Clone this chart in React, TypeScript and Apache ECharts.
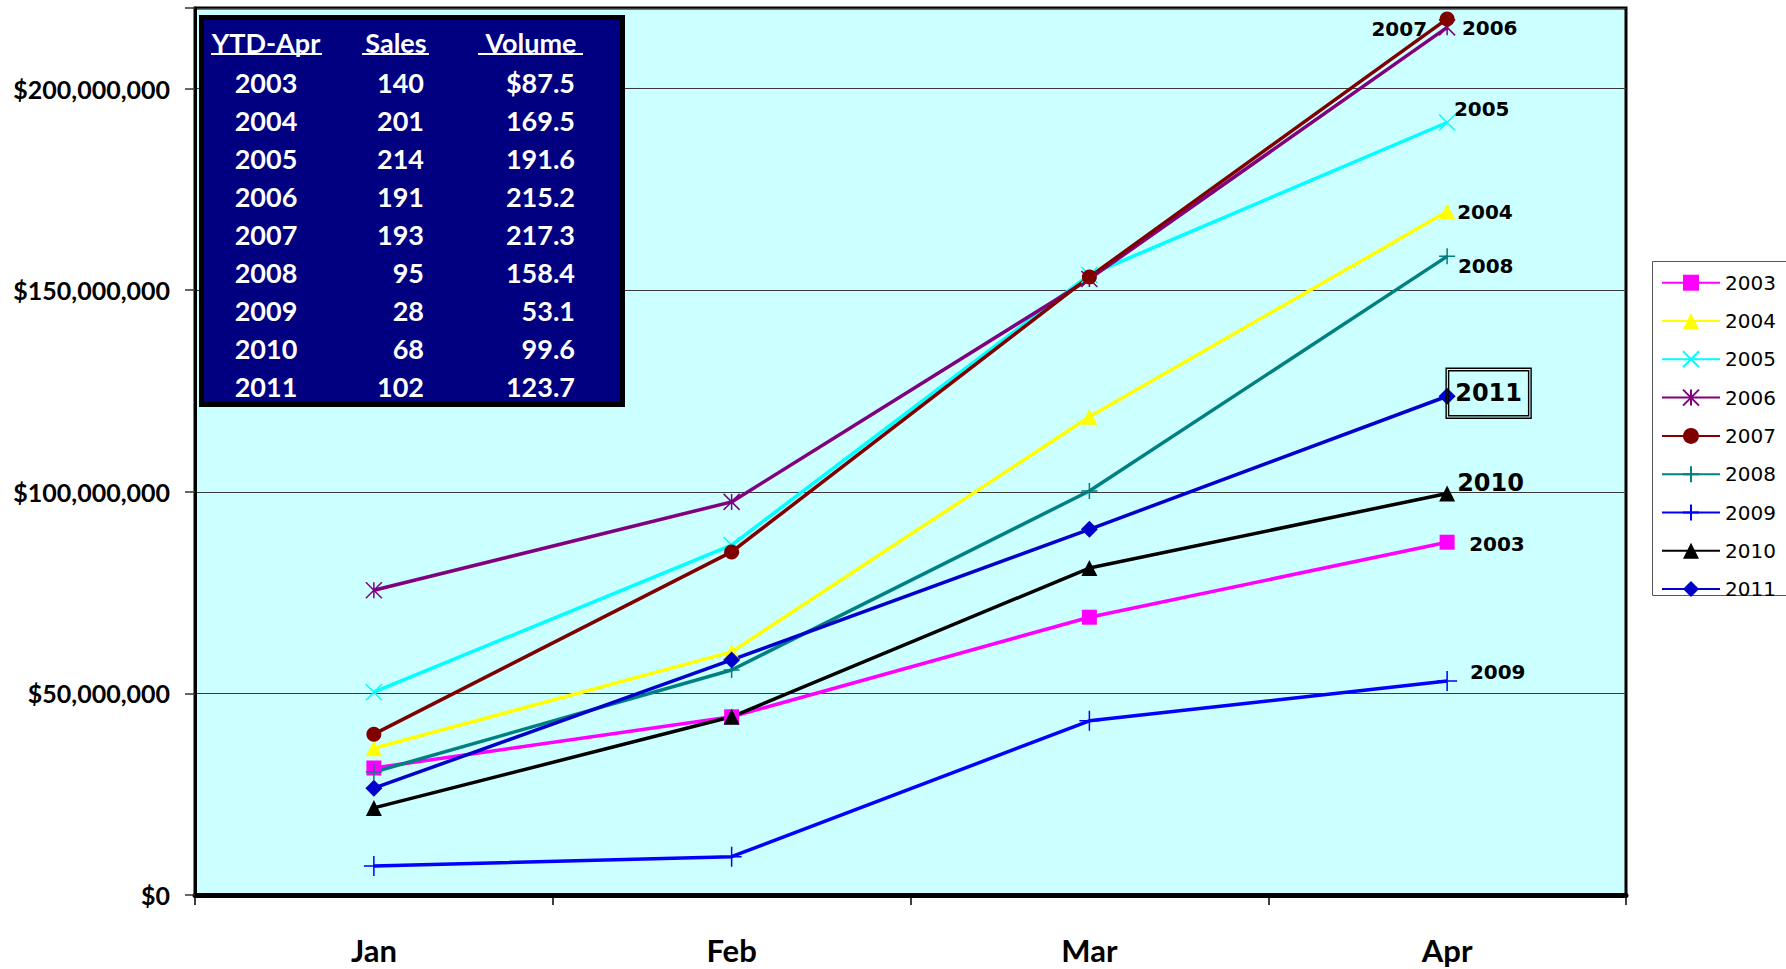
import React, { useEffect, useRef } from 'react';
import * as echarts from 'echarts';

// ---------- data ----------
const months = ['Jan', 'Feb', 'Mar', 'Apr'];
const yTicks = [0, 50, 100, 150, 200]; // millions of dollars

const v2003 = [31.5, 44.2, 68.9, 87.5];
const v2004 = [36.4, 60.3, 118.6, 169.5];
const v2005 = [50.3, 86.8, 153.8, 191.6];
const v2006 = [75.6, 97.5, 152.8, 215.2];
const v2007 = [39.9, 85.1, 153.3, 217.3];
const v2008 = [30.5, 55.8, 100.2, 158.4];
const v2009 = [7.2, 9.5, 43.2, 53.1];
const v2010 = [21.6, 44.2, 81.1, 99.6];
const v2011 = [26.5, 58.3, 90.7, 123.7];

const tableHeader = ['YTD-Apr', 'Sales', 'Volume'];
const tableYears = ['2003', '2004', '2005', '2006', '2007', '2008', '2009', '2010', '2011'];
const tableSales = ['140', '201', '214', '191', '193', '95', '28', '68', '102'];
const tableVolume = ['$87.5', '169.5', '191.6', '215.2', '217.3', '158.4', '53.1', '99.6', '123.7'];

// ---------- styles ----------
const CROSS = 'path://M0,0L10,10M10,0L0,10';
const STAR = 'path://M5,0L5,10M0,0L10,10M10,0L0,10';
const PLUS = 'path://M5,0L5,10M0,5L10,5';

type Def = {
  name: string;
  data: number[];
  color: string;
  symbol: string;
  size: number;
  stroke: number;
  side: 'left' | 'right';
  gap: number;
  dy: number;
  fs: number;
  boxed?: boolean;
};

const defs: Def[] = [
  { name: '2003', data: v2003, color: '#FF00FF', symbol: 'rect', size: 15, stroke: 0, side: 'right', gap: 22, dy: 2, fs: 20 },
  { name: '2004', data: v2004, color: '#FFFF00', symbol: 'triangle', size: 16, stroke: 0, side: 'right', gap: 10, dy: 0, fs: 20 },
  { name: '2005', data: v2005, color: '#00FFFF', symbol: CROSS, size: 16, stroke: 1.5, side: 'right', gap: 6, dy: -14, fs: 20 },
  { name: '2006', data: v2006, color: '#800080', symbol: STAR, size: 16, stroke: 1.5, side: 'right', gap: 14, dy: 1, fs: 20 },
  { name: '2007', data: v2007, color: '#800000', symbol: 'circle', size: 15, stroke: 0, side: 'left', gap: 20, dy: 10, fs: 20 },
  { name: '2008', data: v2008, color: '#008080', symbol: PLUS, size: 16, stroke: 1.5, side: 'right', gap: 10, dy: 10, fs: 20 },
  { name: '2009', data: v2009, color: '#0000FF', symbol: PLUS, size: 20, stroke: 1.5, side: 'right', gap: 22, dy: -9, fs: 20 },
  { name: '2010', data: v2010, color: '#000000', symbol: 'triangle', size: 16, stroke: 0, side: 'right', gap: 10, dy: -10, fs: 24 },
  { name: '2011', data: v2011, color: '#0000CC', symbol: 'diamond', size: 17, stroke: 0, side: 'right', gap: -1, dy: -3, fs: 24, boxed: true },
];

const LABEL_FONT = 'DejaVu Sans';
const AXIS_FONT = 'Lato';

function endLabel(d: Def) {
  const ox = d.side === 'right' ? d.gap - d.size / 2 : -(d.gap - d.size / 2);
  const base: any = {
    show: true,
    position: d.side,
    distance: 0,
    offset: [ox, d.dy],
    color: '#000',
    fontFamily: LABEL_FONT,
    fontWeight: 'bold',
    fontSize: d.fs,
  };
  if (d.boxed) {
    return {
      ...base,
      formatter: '{b|' + d.name + '}',
      borderColor: '#000',
      borderWidth: 1.4,
      padding: 2.5,
      rich: {
        b: {
          color: '#000',
          fontFamily: LABEL_FONT,
          fontWeight: 'bold',
          fontSize: d.fs,
          width: 80,
          height: 45,
          lineHeight: 45,
          align: 'center',
          verticalAlign: 'middle',
          borderColor: '#000',
          borderWidth: 1.4,
        },
      },
    };
  }
  return { ...base, formatter: d.name };
}

function buildOption() {
  const series = defs.map((d) => ({
    type: 'line',
    name: d.name,
    data: d.data.map((v, i) => (i === d.data.length - 1 ? { value: v, label: endLabel(d) } : v)),
    symbol: d.symbol,
    symbolSize: d.size,
    showAllSymbol: true,
    lineStyle: { width: 3.5, color: d.color },
    itemStyle: { color: d.color, borderColor: d.color, borderWidth: d.stroke },
    label: { show: false },
    emphasis: { disabled: true },
    animation: false,
  }));

  const graphics: any[] = [];
  // legend frame
  graphics.push({
    type: 'rect',
    z: 1,
    shape: { x: 1652.5, y: 261.5, width: 200, height: 334 },
    style: { fill: '#fff', stroke: '#555', lineWidth: 1 },
  });
  // table
  graphics.push({
    type: 'rect',
    z: 100,
    shape: { x: 201.5, y: 17.5, width: 421, height: 387 },
    style: { fill: '#000080', stroke: '#000', lineWidth: 5 },
  });
  const headerX = [266, 396, 531];
  const underline = [
    [211, 322],
    [362, 429],
    [478, 583],
  ];
  tableHeader.forEach((h, i) => {
    graphics.push({
      type: 'text',
      z: 101,
      style: {
        text: h,
        x: headerX[i],
        y: 42,
        fill: '#fff',
        fontFamily: AXIS_FONT,
        fontWeight: 'bold',
        fontSize: 27,
        align: 'center',
        verticalAlign: 'middle',
      },
    });
    graphics.push({
      type: 'line',
      z: 101,
      shape: { x1: underline[i][0], y1: 54, x2: underline[i][1], y2: 54 },
      style: { stroke: '#fff', lineWidth: 2 },
    });
  });
  const cols = [
    { vals: tableYears, x: 266, align: 'center' },
    { vals: tableSales, x: 424, align: 'right' },
    { vals: tableVolume, x: 575, align: 'right' },
  ];
  cols.forEach((c) => {
    c.vals.forEach((t, r) => {
      graphics.push({
        type: 'text',
        z: 101,
        style: {
          text: t,
          x: c.x,
          y: 82 + r * 38.1,
          fill: '#fff',
          fontFamily: AXIS_FONT,
          fontWeight: 'bold',
          fontSize: 27,
          align: c.align,
          verticalAlign: 'middle',
        },
      });
    });
  });

  return {
    animation: false,
    backgroundColor: '#fff',
    grid: {
      left: 195,
      top: 8,
      width: 1431,
      height: 887,
      show: true,
      backgroundColor: '#CCFFFF',
      borderColor: '#000',
      borderWidth: 3,
      containLabel: false,
    },
    legend: {
      orient: 'vertical',
      left: 1661,
      top: 270.7,
      padding: 0,
      z: 10,
      itemWidth: 58,
      itemHeight: 20,
      itemGap: 14.3,
      selectedMode: false,
      textStyle: { fontFamily: LABEL_FONT, fontSize: 20, color: '#000', lineHeight: 24 },
      data: defs.map((d) => d.name),
    },
    xAxis: {
      type: 'category',
      data: months,
      boundaryGap: true,
      axisLine: { show: true, lineStyle: { color: '#000', width: 5 } },
      axisTick: { show: true, length: 10, lineStyle: { color: '#000', width: 1.5 } },
      axisLabel: {
        margin: 39,
        color: '#000',
        fontFamily: AXIS_FONT,
        fontWeight: 'bold',
        fontSize: 31,
      },
      splitLine: { show: false },
    },
    yAxis: {
      type: 'value',
      min: 0,
      max: 220,
      interval: 50,
      axisLine: { show: true, lineStyle: { color: '#000', width: 3 } },
      axisTick: { show: true, length: 10, lineStyle: { color: '#333', width: 1.5 } },
      axisLabel: {
        margin: 25,
        color: '#000',
        fontFamily: AXIS_FONT,
        fontWeight: 'bold',
        fontSize: 25,
        formatter: (v: number) =>
          yTicks.includes(v) ? '$' + (v * 1000000).toLocaleString('en-US') : '',
      },
      splitLine: { show: true, lineStyle: { color: '#3a3a3a', width: 1 } },
    },
    series,
    graphic: { elements: graphics },
  };
}

export default function App() {
  const ref = useRef<HTMLDivElement>(null);
  useEffect(() => {
    document.body.style.margin = '0';
    if (!ref.current) return;
    const chart = echarts.init(ref.current, undefined, { renderer: 'svg' });
    chart.setOption(buildOption() as any);
    return () => chart.dispose();
  }, []);
  return <div ref={ref} style={{ width: 1786, height: 969 }} />;
}
